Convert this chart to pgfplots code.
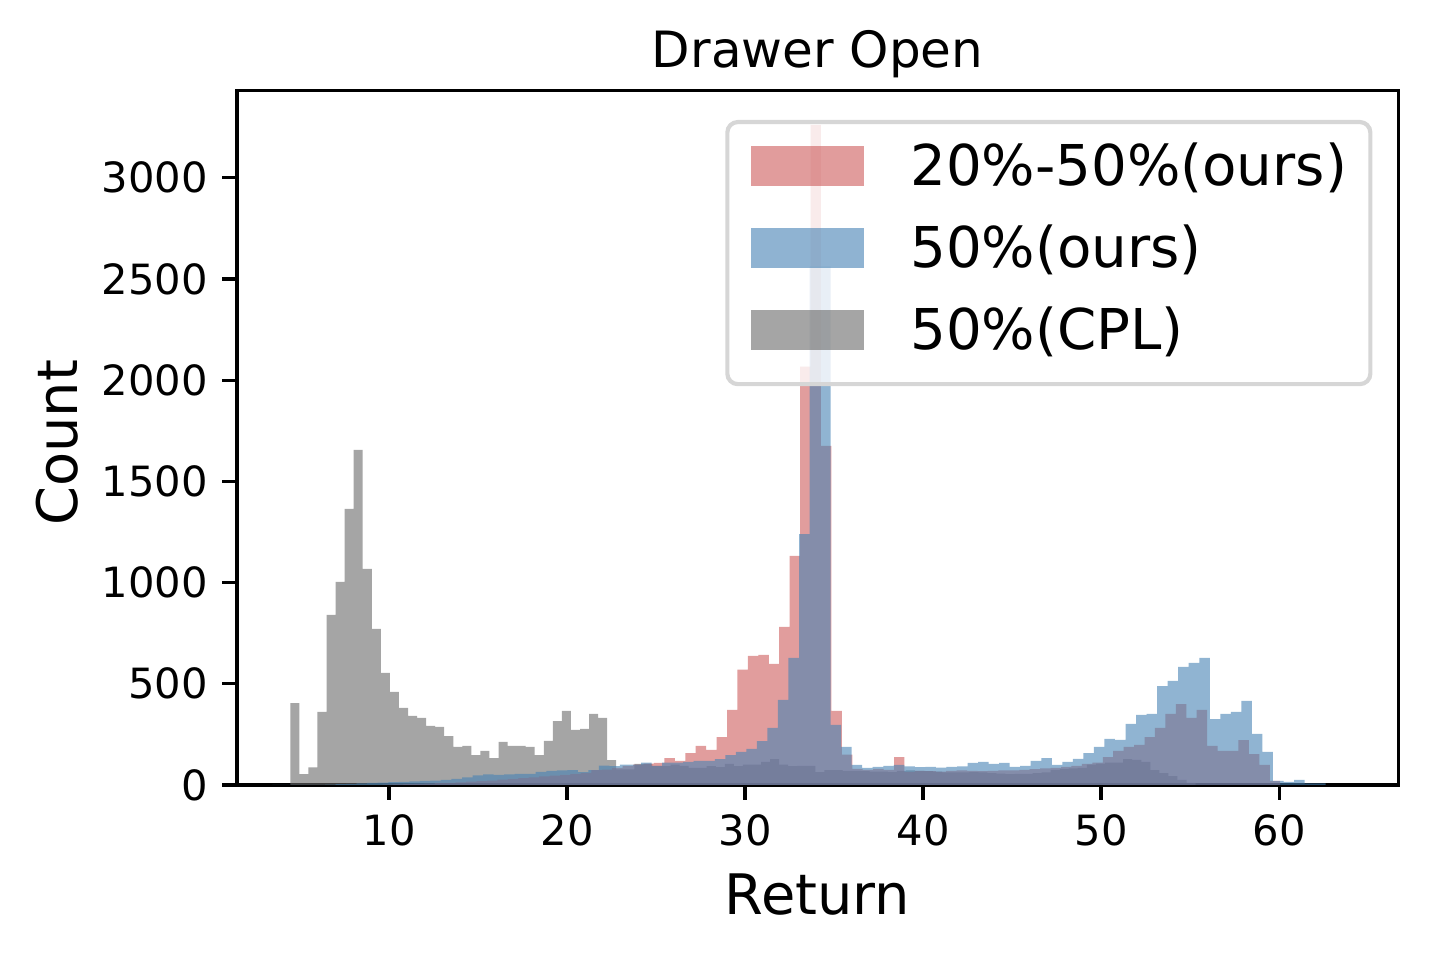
\documentclass[border=0pt]{standalone}
\usepackage{fontspec}
\setmainfont{DejaVu Sans}
\usepackage{pgfplots}
\usepackage{pgfplotstable}
\pgfplotsset{compat=1.18}

\definecolor{cred}{RGB}{205,92,92}
\definecolor{cblue}{RGB}{70,130,180}
\definecolor{cgray}{RGB}{105,105,105}
\definecolor{legframe}{RGB}{214,214,214}

% histogram bins: left edge, count (last row closes the final bin)
\pgfplotstableread{
x y
4.455 404
4.964 54
5.472 87
5.981 361
6.489 840
6.998 1003
7.506 1364
8.015 1656
8.523 1068
9.032 771
9.540 554
10.049 460
10.557 381
11.066 341
11.574 331
12.083 292
12.591 287
13.100 242
13.608 188
14.117 193
14.625 148
15.134 168
15.642 133
16.151 213
16.659 193
17.168 193
17.676 188
18.185 148
18.693 218
19.202 316
19.710 366
20.219 272
20.727 277
21.236 351
21.744 331
22.253 123
22.761 77
23.270 77
23.778 104
24.287 104
24.795 95
25.304 93
25.812 100
26.321 95
26.829 84
27.338 84
27.846 93
28.355 88
28.863 104
29.372 93
29.880 100
30.389 100
30.897 114
31.406 128
31.914 100
32.423 93
32.931 95
33.440 95
33.948 64
34.457 74
34.965 74
35.474 70
35.982 70
36.491 68
36.999 66
37.508 66
38.016 64
38.525 70
39.033 72
39.542 70
40.050 68
40.559 66
41.067 62
41.576 62
42.084 62
42.593 64
43.101 62
43.610 58
44.118 56
44.627 54
45.135 55
45.644 55
46.152 58
46.661 62
47.169 75
47.678 80
48.186 82
48.695 85
49.203 100
49.712 105
50.220 110
50.729 110
51.237 128
51.746 124
52.254 114
52.763 74
53.271 59
53.780 44
54.288 25
54.797 11
55.305 11
}\graytab

\pgfplotstableread{
x y
9.638 2
10.224 3
10.811 4
11.397 5
11.983 7
12.570 9
13.156 11
13.742 13
14.328 16
14.915 19
15.501 22
16.087 26
16.674 30
17.260 34
17.846 38
18.433 42
19.019 46
19.605 50
20.191 55
20.778 60
21.364 74
21.950 76
22.537 85
23.123 95
23.709 100
24.296 105
24.882 109
25.468 133
26.054 119
26.641 158
27.227 193
27.813 173
28.400 237
28.986 371
29.572 570
30.159 638
30.745 643
31.331 598
31.917 781
32.504 1132
33.090 2067
33.676 3262
34.263 1675
34.849 366
35.435 150
36.022 80
36.608 75
37.194 80
37.780 75
38.367 138
38.953 65
39.539 70
40.126 68
40.712 66
41.298 70
41.885 72
42.471 70
43.057 68
43.643 70
44.230 72
44.816 72
45.402 75
45.989 78
46.575 82
47.161 85
47.748 90
48.334 95
48.920 104
49.506 110
50.093 138
50.679 168
51.265 188
51.852 198
52.438 237
53.024 282
53.611 351
54.197 400
54.783 331
55.369 371
55.956 193
56.542 168
57.128 168
57.715 222
58.301 153
58.887 99
59.474 20
60.060 20
}\redtab

\pgfplotstableread{
x y
3.450 0
4.042 0
4.633 0
5.225 0
5.816 1
6.408 2
7.000 4
7.591 6
8.183 8
8.774 10
9.366 12
9.958 14
10.549 15
11.141 18
11.732 20
12.324 22
12.916 25
13.507 30
14.099 38
14.690 48
15.282 52
15.874 50
16.465 53
17.057 55
17.648 55
18.240 65
18.832 70
19.423 72
20.015 74
20.606 64
21.198 74
21.790 96
22.381 93
22.973 100
23.564 100
24.156 110
24.748 95
25.339 110
25.931 110
26.522 114
27.114 119
27.706 119
28.297 128
28.889 148
29.480 163
30.072 178
30.664 217
31.255 282
31.847 420
32.438 628
33.030 1240
33.622 2562
34.213 2562
34.805 297
35.396 188
35.988 99
36.580 85
37.171 90
37.763 94
38.354 99
38.946 92
39.538 88
40.129 90
40.721 86
41.312 90
41.904 92
42.496 109
43.087 114
43.679 104
44.270 109
44.862 89
45.454 94
46.045 119
46.637 133
47.228 99
47.820 114
48.412 129
49.003 158
49.595 188
50.186 228
50.778 223
51.370 302
51.961 346
52.553 351
53.144 489
53.736 514
54.328 583
54.919 603
55.511 628
56.102 326
56.694 351
57.286 361
57.877 415
58.469 252
59.060 163
59.652 20
60.244 15
60.835 25
61.427 8
62.018 8
62.610 8
}\bluetab

\begin{document}
\begin{tikzpicture}
\useasboundingbox (-56.88pt,-41.04pt) rectangle (286.08pt,188.4pt);
\begin{axis}[
  scale only axis,
  width=278.7pt, height=166.6pt,
  xmin=1.46, xmax=66.69,
  ymin=0, ymax=3430,
  xtick={10,20,30,40,50,60},
  ytick={0,500,1000,1500,2000,2500,3000},
  scaled ticks=false,
  /pgf/number format/1000 sep={},
  /pgf/number format/assume math mode=true,
  tick pos=left,
  tick align=outside,
  major tick length=3.5pt,
  tick style={line width=0.8pt, black},
  axis line style={line width=0.8pt},
  ticklabel style={font=\fontsize{10}{12}\selectfont},
  title={Drawer Open},
  title style={at={(axis description cs:0.5,1)}, anchor=base, yshift=-0.5pt,
    font=\fontsize{12}{14}\selectfont},
  xlabel={Return},
  xlabel style={at={(axis description cs:0.5,0)}, anchor=base, yshift=-31.2pt,
    font=\fontsize{13.4}{16}\selectfont},
  ylabel={Count},
  every axis y label/.style={at={(axis description cs:-0.1371,0.493)},
    rotate=90, anchor=base, font=\fontsize{13.4}{16}\selectfont},
  legend image code/.code={\fill[#1, sharp corners] (0pt,-3.55pt) rectangle (27.1pt,6.05pt);},
  legend cell align=left,
  legend style={at={(axis description cs:1,1)}, anchor=north east,
    xshift=-6.2pt, yshift=-7pt,
    draw=legframe, line width=1pt, rounded corners=2.5pt,
    fill=white, fill opacity=0.8, text opacity=1, draw opacity=1,
    inner xsep=5.6pt, inner ysep=5pt, row sep=5.9pt,
    nodes={inner sep=0pt, text height=10.3pt, text depth=3.4pt},
    /tikz/every odd column/.append style={column sep=11.2pt},
    font=\fontsize{13.5}{16}\selectfont},
]
\addplot[const plot, fill=cgray, fill opacity=0.6, draw=none, forget plot] table {\graytab} \closedcycle;
\addplot[const plot, fill=cred, fill opacity=0.6, draw=none, forget plot] table {\redtab} \closedcycle;
\addplot[const plot, fill=cblue, fill opacity=0.6, draw=none, forget plot] table {\bluetab} \closedcycle;

\addlegendimage{fill=cred, fill opacity=0.6, draw=none}
\addlegendentry{20\%-50\%(ours)}
\addlegendimage{fill=cblue, fill opacity=0.6, draw=none}
\addlegendentry{50\%(ours)}
\addlegendimage{fill=cgray, fill opacity=0.6, draw=none}
\addlegendentry{50\%(CPL)}
\end{axis}
\end{tikzpicture}
\end{document}
